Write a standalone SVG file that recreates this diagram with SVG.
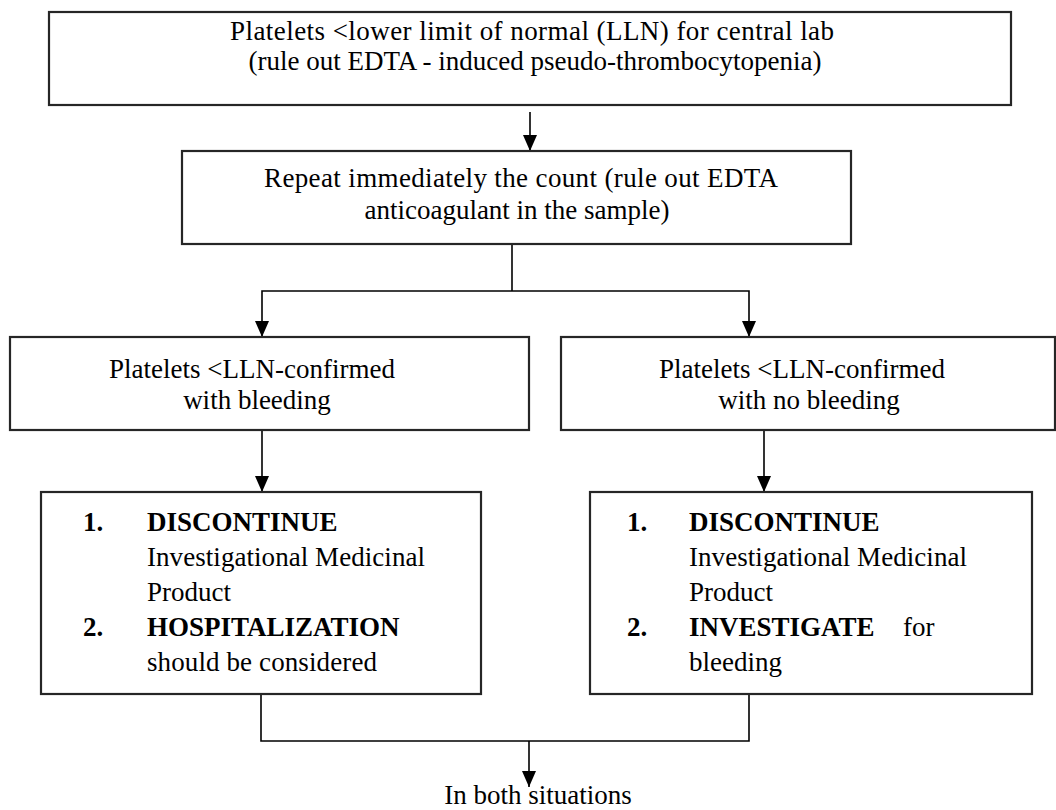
<svg xmlns="http://www.w3.org/2000/svg" width="1056" height="810" viewBox="0 0 1056 810">
  <defs>
    <!-- solid triangular head, pointing along the path direction -->
    <marker id="arrow" markerUnits="userSpaceOnUse" markerWidth="16" markerHeight="14" viewBox="0 0 16 14" refX="16" refY="7" orient="auto">
      <path d="M0,0 L16,7 L0,14 Z" fill="#000"/>
    </marker>
    <style>
      .box { fill: #fff; stroke: #262626; stroke-width: 2.2; }
      .t { font-family: "Liberation Serif", "Times New Roman", "DejaVu Serif", serif; font-size: 27px; fill: #000; }
      .c { text-anchor: middle; }
      .b { font-weight: bold; }
      .wire { fill: none; stroke: #000; stroke-width: 1.6; }
    </style>
  </defs>
  <rect width="1056" height="810" fill="#fff"/>

  <!-- connectors -->
  <g id="connectors">
    <line class="wire" x1="530" y1="112" x2="530" y2="151" marker-end="url(#arrow)"/>
    <polyline class="wire" points="512,244 512,291"/>
    <polyline class="wire" points="512,291 262,291 262,337" marker-end="url(#arrow)"/>
    <polyline class="wire" points="512,291 749,291 749,337" marker-end="url(#arrow)"/>
    <line class="wire" x1="262" y1="430" x2="262" y2="492" marker-end="url(#arrow)"/>
    <line class="wire" x1="764" y1="430" x2="764" y2="492" marker-end="url(#arrow)"/>
    <polyline class="wire" points="261,694 261,741 749,741 749,694"/>
    <line class="wire" x1="529" y1="741" x2="529" y2="787" marker-end="url(#arrow)"/>
  </g>

  <!-- top: platelet count below normal -->
  <g id="node-lln">
    <rect class="box" x="49" y="12" width="962" height="93"/>
    <text class="t c" x="532" y="40" textLength="604" lengthAdjust="spacing">Platelets &lt;lower limit of normal (LLN) for central lab</text>
    <text class="t c" x="535" y="70">(rule out EDTA - induced pseudo-thrombocytopenia)</text>
  </g>

  <!-- repeat the count -->
  <g id="node-repeat">
    <rect class="box" x="182" y="151" width="669" height="93"/>
    <text class="t c" x="521" y="187" textLength="514" lengthAdjust="spacing">Repeat immediately the count (rule out EDTA</text>
    <text class="t c" x="517" y="219">anticoagulant in the sample)</text>
  </g>

  <!-- confirmed, with bleeding -->
  <g id="node-bleeding">
    <rect class="box" x="10" y="337" width="519" height="93"/>
    <text class="t c" x="252" y="378">Platelets &lt;LLN-confirmed</text>
    <text class="t c" x="257" y="409">with bleeding</text>
  </g>

  <!-- confirmed, no bleeding -->
  <g id="node-no-bleeding">
    <rect class="box" x="561" y="337" width="494" height="93"/>
    <text class="t c" x="802" y="378">Platelets &lt;LLN-confirmed</text>
    <text class="t c" x="809" y="409">with no bleeding</text>
  </g>

  <!-- actions when bleeding -->
  <g id="node-actions-bleeding">
    <rect class="box" x="41" y="492" width="440" height="202"/>
    <text class="t b" x="83" y="531">1.</text>
    <text class="t b" x="147" y="531">DISCONTINUE</text>
    <text class="t" x="147" y="566" textLength="278" lengthAdjust="spacing">Investigational Medicinal</text>
    <text class="t" x="147" y="601">Product</text>
    <text class="t b" x="83" y="636">2.</text>
    <text class="t b" x="147" y="636">HOSPITALIZATION</text>
    <text class="t" x="147" y="671" textLength="230" lengthAdjust="spacing">should be considered</text>
  </g>

  <!-- actions when not bleeding -->
  <g id="node-actions-no-bleeding">
    <rect class="box" x="590" y="492" width="442" height="202"/>
    <text class="t b" x="627" y="531">1.</text>
    <text class="t b" x="689" y="531">DISCONTINUE</text>
    <text class="t" x="689" y="566" textLength="278" lengthAdjust="spacing">Investigational Medicinal</text>
    <text class="t" x="689" y="601">Product</text>
    <text class="t b" x="627" y="636">2.</text>
    <text class="t" y="636"><tspan class="b" x="689">INVESTIGATE</tspan><tspan x="903">for</tspan></text>
    <text class="t" x="689" y="671">bleeding</text>
  </g>

  <!-- common outcome -->
  <g id="node-both">
    <text class="t c" x="538" y="804">In both situations</text>
  </g>
</svg>
